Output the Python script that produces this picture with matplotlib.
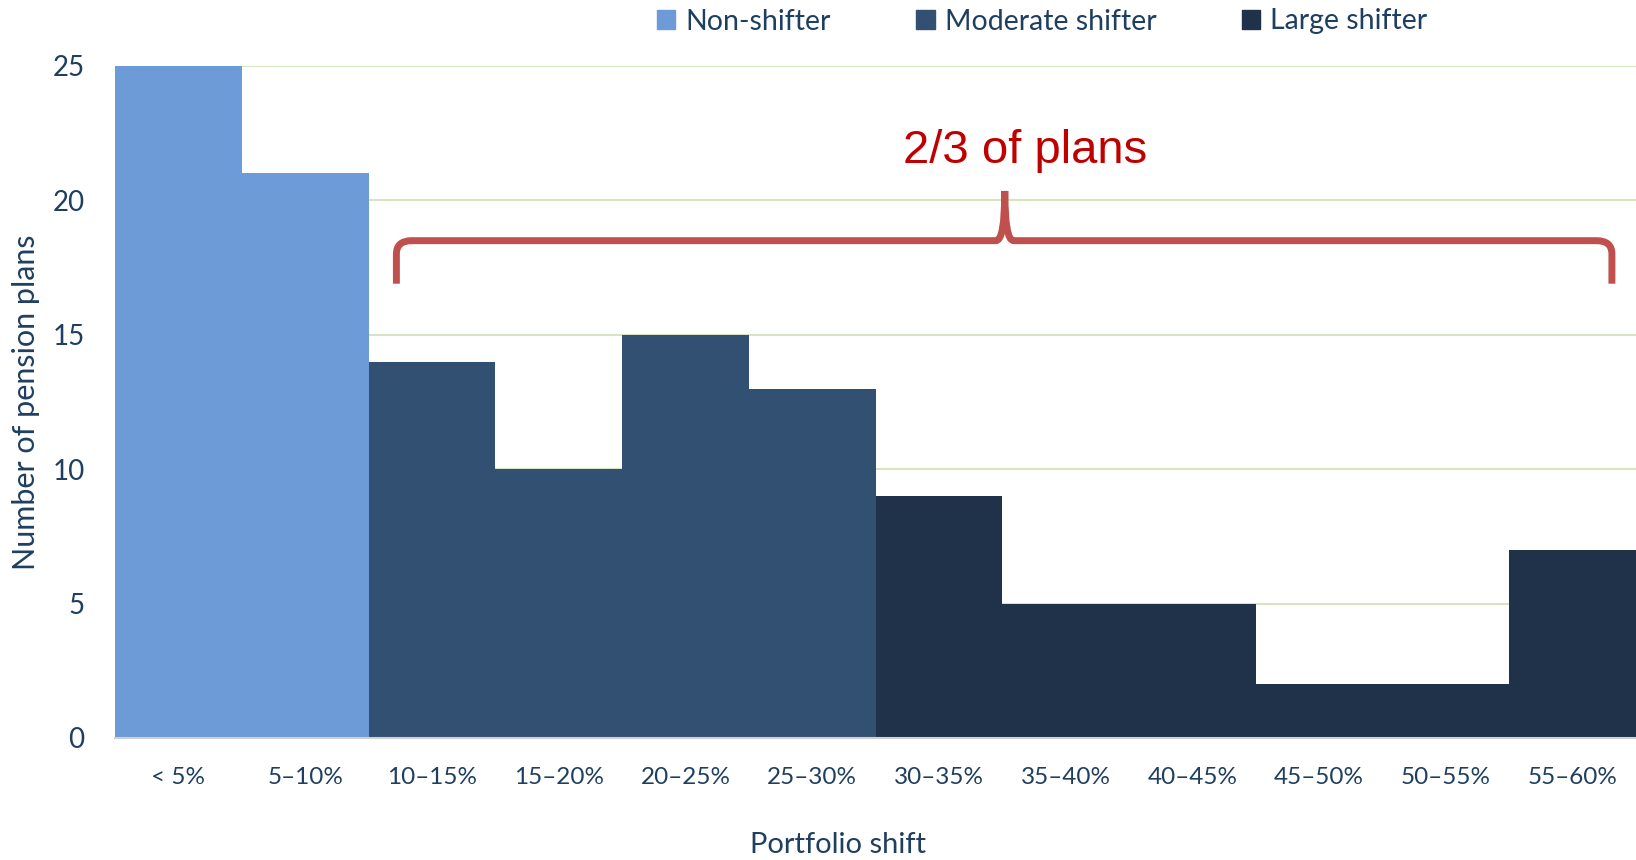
import matplotlib.pyplot as plt
from matplotlib.path import Path
from matplotlib.patches import PathPatch, Patch

plt.rcParams['font.family'] = ['Lato', 'DejaVu Sans']

shift_bins = ['< 5%', '5–10%', '10–15%', '15–20%', '20–25%', '25–30%',
              '30–35%', '35–40%', '40–45%', '45–50%', '50–55%', '55–60%']
plan_counts = [25, 21, 14, 10, 15, 13, 9, 5, 5, 2, 2, 7]
shifter_group = ['Non-shifter'] * 2 + ['Moderate shifter'] * 4 + ['Large shifter'] * 6

group_colors = {'Non-shifter': '#6C9BD8',
                'Moderate shifter': '#325072',
                'Large shifter': '#1F3249'}
text_color = '#1F3F60'

fig = plt.figure(figsize=(16.36, 8.6), dpi=100)
ax = fig.add_axes([0.0703, 0.1419, 0.9297, 0.7814])

x = range(len(shift_bins))
ax.bar(x, plan_counts, width=1.0, color=[group_colors[g] for g in shifter_group],
       linewidth=0, zorder=2)

ax.set_xlim(-0.5, len(shift_bins) - 0.5)
ax.set_ylim(0, 25)
ax.set_yticks([0, 5, 10, 15, 20, 25])
ax.set_xticks(list(x))
ax.set_xticklabels(shift_bins)
ax.yaxis.grid(True, color='#D7E4BD', linewidth=1.5, zorder=0)
ax.set_axisbelow(True)
for side in ['top', 'right', 'left']:
    ax.spines[side].set_visible(False)
ax.spines['bottom'].set_color('#D0D0D0')
ax.spines['bottom'].set_linewidth(1.5)
ax.spines['bottom'].set_zorder(3)
ax.tick_params(axis='both', length=0, colors=text_color)
ax.tick_params(axis='y', labelsize=20, pad=22)
ax.tick_params(axis='x', labelsize=17.5, pad=21)

fig.text(0.016, 0.5325, 'Number of pension plans', rotation=90, ha='center',
         va='center', fontsize=22, color=text_color)
fig.text(0.512, 0.018, 'Portfolio shift', ha='center', va='center',
         fontsize=21, color=text_color)

# curly brace over the moderate and large shifters
x0, x1, xm = 1.72, 11.31, 6.52
y_end, y_h, y_top = 16.9, 18.5, 20.35
verts, codes = [], []
for xa, sgn in [(x0, 1), (x1, -1)]:
    verts += [(xa, y_end), (xa, y_h - 0.5), (xa, y_h), (xa + sgn * 0.12, y_h),
              (xm - sgn * 0.07, y_h), (xm, y_h), (xm, y_top)]
    codes += [Path.MOVETO, Path.LINETO, Path.CURVE3, Path.CURVE3,
              Path.LINETO, Path.CURVE3, Path.CURVE3]
ax.add_patch(PathPatch(Path(verts, codes), facecolor='none', edgecolor='#C0504D',
                       linewidth=5, capstyle='butt', joinstyle='round',
                       zorder=4, clip_on=False))
ax.text(6.68, 21.84, '2/3 of plans', ha='center', va='center', fontsize=34,
        color='#C00000', family=['Liberation Sans', 'DejaVu Sans'])

handles = [Patch(color=c, label=g) for g, c in group_colors.items()]
fig.legend(handles=handles, loc='center', bbox_to_anchor=(0.637, 0.975), ncol=3,
           frameon=False, fontsize=20.5, handlelength=0.65, handleheight=0.65,
           handletextpad=0.35, columnspacing=3.0, labelcolor=text_color)

fig.savefig('out.png', dpi=100)
